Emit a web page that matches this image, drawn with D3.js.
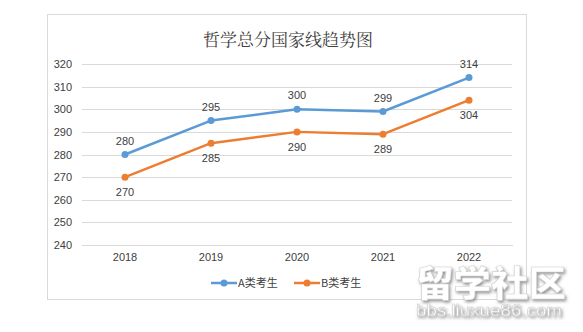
<!DOCTYPE html>
<html>
<head>
<meta charset="utf-8">
<script src="https://cdn.jsdelivr.net/npm/d3@7/dist/d3.min.js"></script>
<style>
  html, body { margin: 0; padding: 0; background: #fff; }
  svg { display: block; }
</style>
</head>
<body>
<svg id="chart" width="583" height="332"></svg>
<script>
const years = ["2018", "2019", "2020", "2021", "2022"];
const seriesA = [280, 295, 300, 299, 314];
const seriesB = [270, 285, 290, 289, 304];
const yTicks = [240, 250, 260, 270, 280, 290, 300, 310, 320];
const seriesNames = ["A类考生", "B类考生"];
const title = "哲学总分国家线趋势图";

const svg = d3.select("#chart");
const font = "'Liberation Sans', 'DejaVu Sans', sans-serif";
const cjk = "'Noto Sans CJK SC', sans-serif";

// soft grey shadow for the site mark
const defs = svg.append("defs");
const f = defs.append("filter").attr("id", "wmShadow")
  .attr("x", "-10%").attr("y", "-20%").attr("width", "130%").attr("height", "160%");
f.append("feDropShadow").attr("dx", 1.5).attr("dy", 2)
  .attr("stdDeviation", 1.6).attr("flood-color", "#8a8a8a").attr("flood-opacity", 0.9);

// chart frame
svg.append("rect")
  .attr("x", 47.5).attr("y", 14.5)
  .attr("width", 479).attr("height", 285)
  .attr("fill", "#fff").attr("stroke", "#d9d9d9");

const margin = { left: 82, right: 512, top: 64, bottom: 245 };
const x = d3.scaleBand().domain(years).range([margin.left, margin.right]);
const y = d3.scaleLinear().domain([240, 320]).range([margin.bottom, margin.top]);

// title
svg.append("text")
  .attr("x", 288).attr("y", 46)
  .attr("text-anchor", "middle")
  .attr("font-family", "'Noto Serif CJK SC', 'Noto Sans CJK SC', serif")
  .attr("font-size", 17)
  .attr("fill", "#404040")
  .text(title);

// horizontal gridlines + y labels
const yAxis = d3.axisLeft(y).tickValues(yTicks).tickSize(-(margin.right - margin.left)).tickPadding(10);
const gy = svg.append("g").attr("transform", `translate(${margin.left},0)`).call(yAxis);
gy.select(".domain").remove();
gy.selectAll(".tick line").attr("stroke", "#d9d9d9").attr("shape-rendering", "crispEdges");
gy.selectAll(".tick text").attr("font-family", font).attr("font-size", 11).attr("fill", "#404040");

// x axis
const xAxis = d3.axisBottom(x).tickSize(0).tickPadding(8);
const gx = svg.append("g").attr("transform", `translate(0,${margin.bottom})`).call(xAxis);
gx.select(".domain").attr("stroke", "#d9d9d9").attr("shape-rendering", "crispEdges");
gx.selectAll(".tick text").attr("font-family", font).attr("font-size", 11).attr("fill", "#404040");

const cx = d => x(d) + x.bandwidth() / 2;
const line = d3.line().x((d, i) => cx(years[i])).y(d => y(d));

const series = [
  { name: seriesNames[0], values: seriesA, color: "#5B9BD5", dy: -10 },
  { name: seriesNames[1], values: seriesB, color: "#ED7D31", dy: 19 }
];

series.forEach(s => {
  svg.append("path")
    .datum(s.values)
    .attr("d", line)
    .attr("fill", "none")
    .attr("stroke", s.color)
    .attr("stroke-width", 2.5)
    .attr("stroke-linejoin", "round");
  svg.selectAll(null).data(s.values).enter().append("circle")
    .attr("cx", (d, i) => cx(years[i]))
    .attr("cy", d => y(d))
    .attr("r", 3.5)
    .attr("fill", s.color);
  svg.selectAll(null).data(s.values).enter().append("text")
    .attr("x", (d, i) => cx(years[i]))
    .attr("y", d => y(d) + s.dy)
    .attr("text-anchor", "middle")
    .attr("font-family", font).attr("font-size", 11)
    .attr("fill", "#404040")
    .text(d => d);
});

// legend
const legendX = [211, 294];
series.forEach((s, i) => {
  const g = svg.append("g").attr("transform", `translate(${legendX[i]},283)`);
  g.append("line").attr("x1", 0).attr("x2", 26).attr("y1", 0).attr("y2", 0)
    .attr("stroke", s.color).attr("stroke-width", 2.5);
  g.append("circle").attr("cx", 13).attr("cy", 0).attr("r", 3.5).attr("fill", s.color);
  g.append("text").attr("x", 27).attr("y", 4)
    .attr("font-family", cjk).attr("font-size", 11).attr("fill", "#404040")
    .text(s.name);
});

// site watermark
const wm = svg.append("g").attr("filter", "url(#wmShadow)");
wm.append("text")
  .attr("x", 416).attr("y", 297)
  .attr("font-family", cjk).attr("font-weight", 900)
  .attr("font-size", 36).attr("textLength", 150).attr("lengthAdjust", "spacingAndGlyphs")
  .attr("fill", "#ffffff").attr("stroke", "#d0d0d0").attr("stroke-width", 0.6)
  .text("留学社区");
wm.append("text")
  .attr("x", 416).attr("y", 316)
  .attr("font-family", font)
  .attr("font-size", 17).attr("textLength", 146).attr("lengthAdjust", "spacingAndGlyphs")
  .attr("fill", "#ffffff").attr("stroke", "#c8c8c8").attr("stroke-width", 0.5)
  .text("bbs.liuxue86.com");
</script>
</body>
</html>
